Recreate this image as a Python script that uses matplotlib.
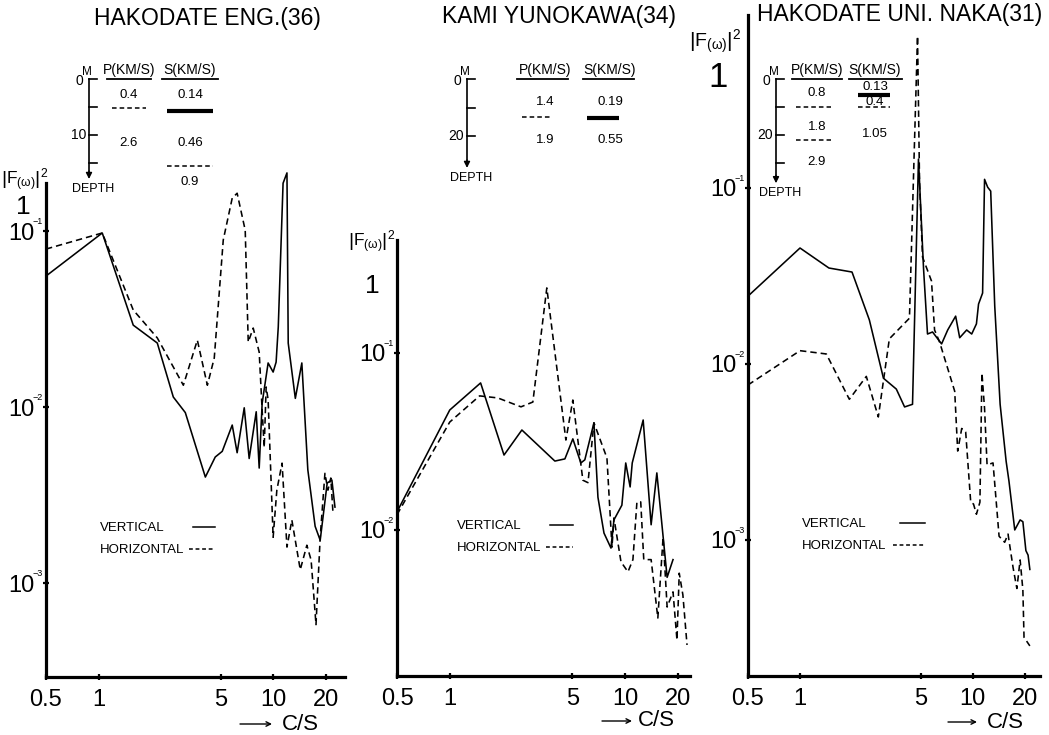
import matplotlib
matplotlib.use("Agg")
import matplotlib.pyplot as plt
from matplotlib.ticker import FixedLocator, FixedFormatter, NullLocator

plt.rcParams['font.family'] = ['Liberation Sans', 'DejaVu Sans']
plt.rcParams['mathtext.fontset'] = 'custom'
plt.rcParams['mathtext.rm'] = 'Liberation Sans'
plt.rcParams['mathtext.it'] = 'Liberation Sans'
plt.rcParams['mathtext.bf'] = 'Liberation Sans'

W, H = 1049, 735

titles = ["HAKODATE ENG.(36)", "KAMI YUNOKAWA(34)", "HAKODATE UNI. NAKA(31)"]
legend_labels = ["VERTICAL", "HORIZONTAL"]

x_ticks = [0.5, 1, 5, 10, 20]
x_tick_labels = ["0.5", "1", "5", "10", "20"]

# ---- HAKODATE ENG. (36) ----
f1_v = [0.5, 1.05, 1.58, 2.17, 2.68, 3.14, 4.09, 4.66, 5.11, 5.83, 6.22, 6.83, 7.29,
        8.0, 8.32, 8.65, 9.36, 10.0, 10.4, 10.7, 11.4, 12.0, 12.2, 13.4, 14.6, 15.8,
        17.4, 18.6, 20.4, 21.7, 22.6]
a1_v = [0.0555, 0.0975, 0.0292, 0.0231, 0.0114, 0.0093, 0.0040, 0.0052, 0.0056, 0.0079,
        0.0055, 0.0099, 0.0051, 0.0094, 0.0045, 0.0105, 0.0178, 0.0158, 0.0180, 0.0285,
        0.187, 0.214, 0.0231, 0.0112, 0.0178, 0.0044, 0.0021, 0.00175, 0.0037, 0.00385,
        0.0027]
f1_h = [0.5, 1.05, 1.58, 2.17, 3.06, 3.68, 4.2, 4.6, 5.18, 5.83, 6.22, 6.92, 7.2, 7.69,
        8.32, 8.65, 8.89, 9.12, 9.36, 10.0, 10.5, 11.25, 12.0, 12.8, 14.3, 15.6, 16.5,
        17.6, 18.6, 19.8, 20.6, 21.4, 22.0]
a1_h = [0.079, 0.0975, 0.0356, 0.0247, 0.0133, 0.024, 0.0133, 0.019, 0.089, 0.154, 0.164,
        0.101, 0.0234, 0.0281, 0.0205, 0.0096, 0.0059, 0.013, 0.011, 0.00182, 0.00337,
        0.0048, 0.0016, 0.00228, 0.00119, 0.00164, 0.00135, 0.00058, 0.00182, 0.0042,
        0.00337, 0.00395, 0.00253]

# ---- KAMI YUNOKAWA (34) ----
f2_v = [0.5, 1.0, 1.5, 2.04, 2.58, 3.98, 4.54, 5.04, 5.6, 5.9, 6.65, 7.01, 7.59, 8.32,
        8.65, 9.6, 10.1, 10.7, 11.0, 12.7, 14.1, 15.2, 16.3, 17.4, 18.8]
a2_v = [0.01265, 0.0476, 0.0677, 0.0265, 0.0367, 0.0245, 0.0252, 0.0327, 0.0239, 0.0249,
        0.0403, 0.0153, 0.0096, 0.0079, 0.0114, 0.0138, 0.0239, 0.0175, 0.0239, 0.0418,
        0.0107, 0.021, 0.0104, 0.0054, 0.0068]
f2_h = [0.5, 1.0, 1.48, 1.88, 2.55, 2.98, 3.58, 4.6, 5.04, 5.75, 6.15, 6.65, 7.89, 8.43,
        8.65, 9.49, 10.4, 11.1, 11.7, 12.3, 12.8, 14.1, 15.4, 16.5, 17.4, 18.8, 19.8,
        20.4, 21.4, 22.6]
a2_h = [0.0122, 0.0407, 0.0572, 0.0557, 0.0496, 0.0528, 0.233, 0.0322, 0.0542, 0.0191,
        0.0185, 0.0403, 0.0255, 0.008, 0.0117, 0.0066, 0.0058, 0.0068, 0.0144, 0.0144,
        0.0068, 0.0068, 0.00318, 0.0091, 0.00367, 0.00447, 0.00239, 0.0057, 0.0043,
        0.00224]

# ---- HAKODATE UNI. NAKA (31) ----
f3_v = [0.5, 1.0, 1.47, 2.0, 2.52, 3.04, 3.61, 4.03, 4.48, 4.85, 5.19, 5.47, 5.85, 6.6,
        7.16, 7.96, 8.4, 9.22, 9.86, 10.5, 10.8, 11.4, 11.7, 12.2, 12.7, 13.4, 14.4,
        15.6, 16.2, 17.5, 18.8, 19.5, 20.3, 20.9, 21.4]
a3_v = [0.0243, 0.0456, 0.0351, 0.0333, 0.0178, 0.0083, 0.0072, 0.0057, 0.0059, 0.146,
        0.0347, 0.0148, 0.0152, 0.013, 0.0156, 0.0187, 0.0141, 0.0156, 0.0148, 0.0169,
        0.0219, 0.0253, 0.112, 0.101, 0.096, 0.0214, 0.0059, 0.0028, 0.00216, 0.00114,
        0.0013, 0.00127, 0.00087, 0.00082, 0.00068]
f3_h = [0.5, 1.0, 1.42, 1.93, 2.42, 2.84, 3.29, 4.3, 4.79, 4.92, 5.12, 5.77, 6.01, 6.43,
        7.86, 8.18, 8.63, 9.1, 9.73, 10.1, 10.5, 11.0, 11.3, 11.7, 12.1, 13.1, 14.2,
        15.3, 16.0, 17.1, 18.0, 18.8, 19.5, 19.8, 21.4]
a3_h = [0.0076, 0.0119, 0.0114, 0.0063, 0.0085, 0.005, 0.0139, 0.0182, 0.73, 0.107,
        0.0405, 0.0296, 0.0156, 0.0133, 0.007, 0.0032, 0.0043, 0.0041, 0.00164, 0.0016,
        0.0014, 0.00164, 0.0089, 0.0056, 0.00267, 0.00274, 0.00105, 0.00097, 0.00108,
        0.0007, 0.00053, 0.00077, 0.00052, 0.00028, 0.00025]

# Subsurface velocity profiles (depth in m, velocities in km/s)
prof1_ticks = [0, 5, 10, 15]
prof1_p = [("0.4", 2.9), ("2.6", 11.5)]
prof1_p_bounds = [(5.1, "dashed")]
prof1_s = [("0.14", 2.9), ("0.46", 11.5), ("0.9", 18.4)]
prof1_s_bounds = [(5.7, "thick"), (15.5, "dashed")]

prof2_ticks = [0, 10, 20]
prof2_p = [("1.4", 8.0), ("1.9", 21.4)]
prof2_p_bounds = [(13.3, "dashed")]
prof2_s = [("0.19", 8.0), ("0.55", 21.4)]
prof2_s_bounds = [(13.7, "thick")]

prof3_ticks = [0, 10, 20, 30]
prof3_p = [("0.8", 5.0), ("1.8", 17.1), ("2.9", 29.6)]
prof3_p_bounds = [(10.0, "dashed"), (21.8, "dashed")]
prof3_s = [("0.13", 2.9), ("0.4", 8.2), ("1.05", 19.6)]
prof3_s_bounds = [(5.7, "thick"), (10.0, "dashed")]

fig = plt.figure(figsize=(W / 100, H / 100), dpi=100)

ov = fig.add_axes([0, 0, 1, 1])
ov.set_xlim(0, W)
ov.set_ylim(H, 0)
ov.axis('off')
ov.patch.set_alpha(0)


def rect(l, r, t, b):
    return [l / W, 1 - b / H, (r - l) / W, (b - t) / H]


def ftext(x, y, s, **kw):
    ov.text(x, y, s, **kw)


panels = [
    dict(rect=rect(46, 345, 183, 677), xlim=(0.5, 25.8), ylim=(10 ** -3.534, 10 ** -0.727),
         yt=[1e-1, 1e-2, 1e-3], fv=f1_v, av=a1_v, fh=f1_h, ah=a1_h,
         leg=(100, 528, 193, 189, 215)),
    dict(rect=rect(397, 690, 240, 676), xlim=(0.5, 23.5), ylim=(10 ** -2.825, 10 ** -0.362),
         yt=[1e-1, 1e-2], fv=f2_v, av=a2_v, fh=f2_h, ah=a2_h,
         leg=(457, 526, 550, 546, 573)),
    dict(rect=rect(748, 1040, 15, 676), xlim=(0.5, 24.5), ylim=(10 ** -3.773, 10 ** -0.017),
         yt=[1e-1, 1e-2, 1e-3], fv=f3_v, av=a3_v, fh=f3_h, ah=a3_h,
         leg=(802, 524, 900, 893, 925)),
]

exponents = {1e-1: "\u22121", 1e-2: "\u22122", 1e-3: "\u22123"}

for p in panels:
    ax = fig.add_axes(p["rect"])
    ax.set_xscale('log')
    ax.set_yscale('log')
    ax.plot(p["fv"], p["av"], color='black', lw=1.15, clip_on=False)
    ax.plot(p["fh"], p["ah"], color='black', lw=1.15, dashes=(4, 2.5), clip_on=False)
    ax.set_xlim(*p["xlim"])
    ax.set_ylim(*p["ylim"])
    for s in ['top', 'right']:
        ax.spines[s].set_visible(False)
    for s in ['left', 'bottom']:
        ax.spines[s].set_linewidth(2.3)
    ax.xaxis.set_major_locator(FixedLocator(x_ticks))
    ax.xaxis.set_major_formatter(FixedFormatter(x_tick_labels))
    ax.xaxis.set_minor_locator(NullLocator())
    ax.yaxis.set_major_locator(FixedLocator(p["yt"]))
    ax.yaxis.set_major_formatter(FixedFormatter(["10"] * len(p["yt"])))
    ax.yaxis.set_minor_locator(NullLocator())
    ax.tick_params(axis='both', direction='inout', length=5, width=1.6)
    ax.tick_params(axis='x', labelsize=17, pad=6)
    ax.tick_params(axis='y', labelsize=17, pad=6)
    ax.patch.set_alpha(0)
    # small exponents next to the "10" tick labels
    for v in p["yt"]:
        ax.annotate(exponents[v], xy=(0, v), xycoords=('axes fraction', 'data'),
                    xytext=(-2, 7), textcoords='offset points', fontsize=6.5,
                    ha='right', va='center', annotation_clip=False)
    # line-style key
    lx, ly, sx0, dx0, x1 = p["leg"]
    ftext(lx, ly, legend_labels[0], ha='left', va='center', fontsize=9.5)
    ftext(lx, ly + 22, legend_labels[1], ha='left', va='center', fontsize=9.5)
    ov.plot([sx0, x1], [ly - 1, ly - 1], color='black', lw=1.1)
    ov.plot([dx0, x1], [ly + 21, ly + 21], color='black', lw=1.1, dashes=(2.5, 1.8))

# station names
for (x, y), t in zip([(207, 18), (559, 16), (900, 14)], titles):
    ftext(x, y, t, ha='center', va='center', fontsize=16.5)

# ordinate labels
for (x, y, fs) in [(25, 180, 12.5), (372, 242, 12.5), (715, 42, 14)]:
    ftext(x, y, r"$\mathregular{\left|F_{(\omega)}\right|^{2}}$", ha='center',
          va='center', fontsize=fs)
for (x, y, fs) in [(23, 207, 19), (372, 286, 19), (718, 77, 25)]:
    ftext(x, y, "1", ha='center', va='center', fontsize=fs)

# frequency unit labels
for (x0, x1, y, xc) in [(240, 272, 724, 300), (602, 632, 721, 656), (948, 977, 722, 1005)]:
    ov.annotate("", xy=(x1, y), xytext=(x0, y),
                arrowprops=dict(arrowstyle='->', lw=1.0, color='black', shrinkA=0, shrinkB=0,
                                mutation_scale=8))
    ftext(xc, y, "C/S", ha='center', va='center', fontsize=16)


def draw_profile(xa, y0, ppm, ticks, label_m, arrow_m, pcol, scol, pvals, pbounds,
                 svals, sbounds):
    def yy(d):
        return y0 + d * ppm
    ov.plot([xa, xa], [y0, yy(arrow_m) - 5], color='black', lw=1.2)
    ov.annotate("", xy=(xa, yy(arrow_m) + 2), xytext=(xa, yy(arrow_m) - 6),
                arrowprops=dict(arrowstyle='-|>', color='black', lw=1.0, mutation_scale=9,
                                shrinkA=0, shrinkB=0))
    for t in ticks:
        ov.plot([xa, xa + 8], [yy(t), yy(t)], color='black', lw=1.2)
    ftext(xa - 10, y0 + 2, "0", ha='center', va='center', fontsize=10)
    ftext(xa - 2, y0 - 7, "M", ha='center', va='center', fontsize=8.5)
    ftext(xa - 3, yy(label_m), str(label_m), ha='right', va='center', fontsize=10)
    ftext(xa + 4, yy(arrow_m) + 12, "DEPTH", ha='center', va='center', fontsize=9)
    # column headers
    for (xc, ul0, ul1, hdr) in [(pcol[0], pcol[1], pcol[2], "P(KM/S)"),
                                (scol[0], scol[1], scol[2], "S(KM/S)")]:
        ftext(xc, y0 - 9, hdr, ha='center', va='center', fontsize=10)
        ov.plot([ul0, ul1], [y0, y0], color='black', lw=1.3)
    for col, vals, bounds in [(pcol, pvals, pbounds), (scol, svals, sbounds)]:
        xc, b0, b1 = col[0], col[3], col[4]
        for txt, d in vals:
            ftext(xc, yy(d), txt, ha='center', va='center', fontsize=9.5)
        for d, style in bounds:
            if style == 'thick':
                ov.plot([b0, b1], [yy(d), yy(d)], color='black', lw=3.0, solid_capstyle='butt')
            else:
                ov.plot([b0, b1], [yy(d), yy(d)], color='black', lw=1.1, dashes=(3, 2))


draw_profile(89, 79, 5.6, prof1_ticks, 10, 17.5,
             (129, 107, 151, 112, 146), (190, 162, 218, 167, 213),
             prof1_p, prof1_p_bounds, prof1_s, prof1_s_bounds)
draw_profile(467, 79, 2.85, prof2_ticks, 20, 30.5,
             (545, 517, 568, 522, 550), (610, 583, 634, 587, 619),
             prof2_p, prof2_p_bounds, prof2_s, prof2_s_bounds)
draw_profile(776, 79, 2.8, prof3_ticks, 20, 36.5,
             (817, 792, 842, 796, 831), (875, 849, 902, 858, 890),
             prof3_p, prof3_p_bounds, prof3_s, prof3_s_bounds)

fig.savefig("out.png", dpi=100)
